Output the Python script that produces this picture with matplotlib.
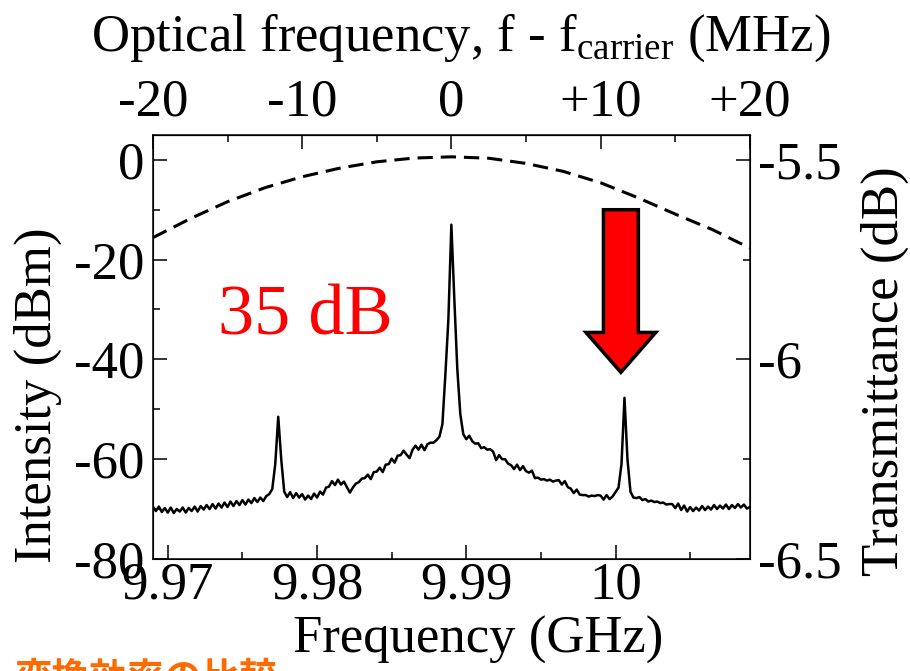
import numpy as np
import matplotlib
matplotlib.use('Agg')
import matplotlib.pyplot as plt
from matplotlib.ticker import MultipleLocator, FixedLocator, FuncFormatter

plt.rcParams['font.family'] = ['Liberation Serif', 'DejaVu Serif']
plt.rcParams['mathtext.fontset'] = 'custom'
plt.rcParams['mathtext.rm'] = 'Liberation Serif'
plt.rcParams['axes.unicode_minus'] = False

# spectrum analyzer trace (GHz, dBm), 0.2 MHz steps
freq = np.linspace(9.969, 10.009, 201)
intensity = [
    -69.5, -70.4, -69.5, -70.6, -69.8, -70.7, -69.7, -70.8, -70.0, -70.5,
    -69.7, -70.7, -69.8, -70.4, -69.5, -70.5, -69.4, -70.1, -69.2, -70.0,
    -69.0, -69.9, -68.9, -69.7, -68.7, -69.6, -68.5, -69.4, -68.4, -69.2,
    -68.2, -69.1, -68.1, -68.8, -67.8, -68.6, -67.7, -68.4, -67.4, -67.0,
    -66.0, -61.0, -51.5, -60.0, -66.5, -67.6, -66.6, -67.8, -66.8, -67.7,
    -67.0, -68.1, -67.3, -68.0, -66.9, -67.7, -66.5, -67.1, -65.7, -65.5,
    -64.4, -65.2, -64.1, -65.1, -64.5, -65.6, -66.7, -65.7, -64.9, -64.6,
    -63.9, -63.8, -63.1, -64.0, -62.6, -62.5, -61.7, -62.6, -61.1, -61.0,
    -59.9, -60.7, -59.3, -59.2, -58.3, -59.1, -59.8, -58.1, -57.3, -58.1,
    -57.1, -58.2, -57.0, -56.7, -56.7, -56.2, -55.5, -53.0, -43.0, -32.0,
    -13.0, -28.0, -42.0, -51.0, -55.0, -56.0, -55.3, -56.4, -56.9, -56.8,
    -57.8, -57.6, -58.1, -58.0, -58.5, -60.2, -59.2, -60.0, -60.0, -60.9,
    -61.2, -62.0, -61.1, -62.2, -61.4, -62.4, -62.7, -62.3, -63.8, -63.7,
    -64.1, -64.0, -64.3, -64.1, -64.5, -64.3, -64.2, -65.1, -64.4, -65.6,
    -65.9, -66.8, -66.1, -67.1, -67.2, -67.2, -67.5, -67.3, -67.4, -67.2,
    -67.3, -68.1, -67.2, -68.0, -67.5, -66.6, -65.7, -61.0, -47.7, -60.0,
    -66.5, -67.7, -67.8, -67.6, -68.2, -68.0, -68.5, -68.3, -68.6, -68.5,
    -68.8, -68.7, -69.1, -69.0, -69.0, -69.8, -68.9, -70.2, -69.3, -70.5,
    -69.6, -70.4, -69.7, -70.3, -69.4, -70.2, -69.5, -70.1, -69.2, -70.0,
    -69.3, -69.9, -69.1, -70.0, -69.2, -69.8, -69.0, -69.7, -69.1, -69.9,
    -69.6,
]

# filter transmittance vs optical offset
trans_mhz = [-20, -17.5, -15, -12.5, -10, -7.5, -5, -2.5, 0,
             2.5, 5, 7.5, 10, 12.5, 15, 17.5, 20]
trans_db = [-5.695, -5.6475, -5.605, -5.57, -5.5425, -5.521, -5.505, -5.4956, -5.4925,
            -5.496, -5.509, -5.529, -5.5575, -5.595, -5.636, -5.675, -5.721]

top_ticks = [-20, -10, 0, 10, 20]
top_minor = [-15, -5, 5, 15]

f_carrier = 9.989  # GHz, position of 0 MHz on top axis

fig = plt.figure(figsize=(9.1, 6.71), dpi=100)
ax = fig.add_axes([0.168, 0.167, 0.656, 0.632])
ax.plot(freq, intensity, color='black', lw=1.8)
ax.set_xlim(9.969, 10.009)
ax.set_ylim(-80, 5)
ax.xaxis.set_major_locator(MultipleLocator(0.01))
ax.xaxis.set_minor_locator(MultipleLocator(0.005))
ax.yaxis.set_major_locator(MultipleLocator(20))
ax.yaxis.set_minor_locator(MultipleLocator(10))
ax.xaxis.set_major_formatter(FuncFormatter(lambda v, p: f'{v:g}'))
ax.tick_params(which='both', direction='in', width=1.1, labelsize=38,
               top=False, right=False)
ax.tick_params(which='major', length=10)
ax.tick_params(which='minor', length=5)
ax.tick_params(axis='x', pad=2)
ax.tick_params(axis='y', pad=6)
for s in ax.spines.values():
    s.set_linewidth(1.1)

ax2 = ax.twinx()
ax2.plot(f_carrier + np.array(trans_mhz) / 1000, trans_db, color='black',
         lw=2.2, dashes=(5, 2.6))
ax2.set_ylim(-6.5, -5.4375)
ax2.yaxis.set_major_locator(MultipleLocator(0.5))
ax2.yaxis.set_minor_locator(MultipleLocator(0.25))
ax2.yaxis.set_major_formatter(FuncFormatter(lambda v, p: f'{v:g}'))
ax2.tick_params(which='both', direction='in', width=1.1, labelsize=38, pad=6)
ax2.tick_params(which='major', length=10)
ax2.tick_params(which='minor', length=5)

top = ax.secondary_xaxis('top', functions=(lambda f: (f - f_carrier) * 1000,
                                           lambda m: f_carrier + m / 1000))
top.xaxis.set_major_locator(FixedLocator(top_ticks))
top.xaxis.set_minor_locator(FixedLocator(top_minor))
top.xaxis.set_major_formatter(FuncFormatter(
    lambda v, p: '0' if abs(v) < 1e-6 else f'{round(v):+d}'))
top.tick_params(which='both', direction='in', width=1.1, labelsize=38, pad=6)
top.tick_params(which='major', length=10)
top.tick_params(which='minor', length=5)

# arrow and annotation
ax.arrow(10.00036, -10, 0, -32.6, width=0.00234, head_width=0.00468,
         head_length=8.0, length_includes_head=True, fc='red', ec='black',
         lw=2.5, zorder=5)
ax.text(9.97334, -31.6, '35 dB', color='red', fontsize=52, va='center', ha='left')

fig.text(38 / 910, 1 - 395 / 671, 'Intensity (dBm)', rotation=90,
         ha='center', va='center', fontsize=38)
fig.text(885 / 910, 1 - 371 / 671, 'Transmittance (dB)', rotation=90,
         ha='center', va='center', fontsize=38)
fig.text(478 / 910, 1 - 640 / 671, 'Frequency (GHz)', ha='center', va='center',
         fontsize=38)
fig.text(461 / 910, 1 - 38 / 671,
         r'Optical frequency, f - f$_{\mathrm{carrier}}$ (MHz)',
         ha='center', va='center', fontsize=38)

fig.text(15 / 910, 12 / 671, '変換効率の比較', color='#ff6a00', fontsize=27,
         fontweight='bold', family=['Noto Sans CJK JP'], va='top')

fig.savefig('out.png', dpi=100)
